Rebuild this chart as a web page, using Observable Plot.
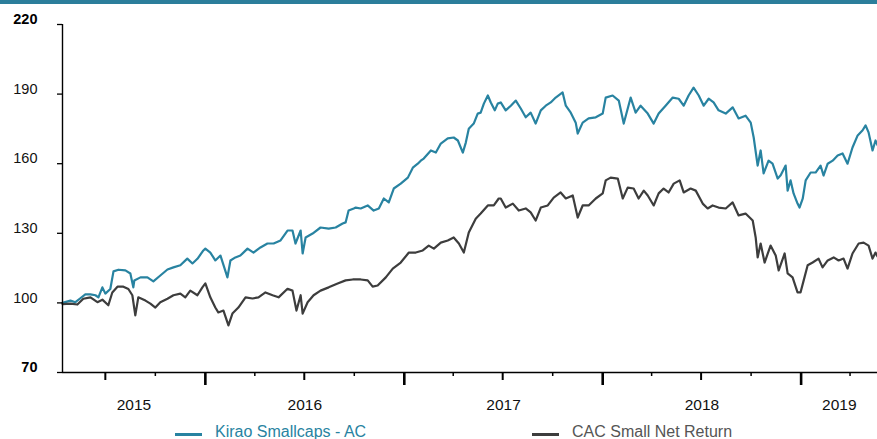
<!DOCTYPE html>
<html><head><meta charset="utf-8">
<script src="https://cdn.jsdelivr.net/npm/d3@7"></script>
<script src="https://cdn.jsdelivr.net/npm/@observablehq/plot@0.6"></script>
<style>
body{margin:0;background:#fff;font-family:"Liberation Sans",Arial,sans-serif;}
#wrap{position:relative;width:877px;height:439px;overflow:hidden;background:#fff}
#chart{position:absolute;left:0;top:0}
#bar{position:absolute;left:0;top:0;width:877px;height:4px;background:#2b7e9b}
.leg{position:absolute;top:422px;font-size:16px;line-height:20px;white-space:nowrap}
.leg i{display:inline-block;width:27px;height:3px;vertical-align:middle;margin-right:13px;position:relative;top:2px}
</style></head><body>
<div id="wrap"><div id="chart"></div><div id="bar"></div><div id="legend"></div></div>
<script>
// series names & colours
const seriesNames = ["Kirao Smallcaps - AC", "CAC Small Net Return"];
const seriesColors = ["#2883a1", "#3d3d3d"];
const legendLeft = [175, 532];

// Kirao Smallcaps - AC : decimal-year dates and values
const kiraoT = [2015.280,2015.320,2015.345,2015.370,2015.395,2015.421,2015.446,2015.461,2015.481,2015.496,2015.521,2015.537,2015.562,2015.597,2015.622,2015.637,2015.642,2015.673,2015.708,2015.738,2015.773,2015.809,2015.839,2015.874,2015.909,2015.935,2015.960,2015.990,
2016.000,2016.025,2016.050,2016.076,2016.111,2016.126,2016.151,2016.176,2016.212,2016.242,2016.277,2016.312,2016.343,2016.378,2016.413,2016.438,2016.453,2016.479,2016.489,2016.504,2016.539,2016.579,2016.620,2016.655,2016.690,2016.705,2016.720,2016.746,2016.756,2016.781,2016.816,2016.846,2016.872,2016.897,2016.922,2016.947,2016.982,
2017.018,2017.043,2017.068,2017.083,2017.098,2017.134,2017.159,2017.184,2017.219,2017.249,2017.270,2017.295,2017.310,2017.325,2017.350,2017.370,2017.385,2017.401,2017.421,2017.436,2017.456,2017.471,2017.486,2017.511,2017.537,2017.562,2017.587,2017.612,2017.637,2017.662,2017.688,2017.713,2017.738,2017.763,2017.798,2017.814,2017.839,2017.864,2017.874,2017.899,2017.929,2017.965,
2018.000,2018.015,2018.050,2018.081,2018.106,2018.141,2018.166,2018.191,2018.227,2018.257,2018.282,2018.317,2018.353,2018.383,2018.408,2018.433,2018.458,2018.484,2018.509,2018.534,2018.559,2018.584,2018.620,2018.655,2018.685,2018.720,2018.746,2018.761,2018.781,2018.796,2018.811,2018.836,2018.856,2018.882,2018.897,2018.922,2018.932,2018.947,2018.962,2018.982,2018.992,
2019.008,2019.023,2019.048,2019.073,2019.098,2019.113,2019.134,2019.159,2019.184,2019.209,2019.234,2019.259,2019.285,2019.310,2019.325,2019.340,2019.360,2019.375,2019.385];
const kiraoV = [100,101,100.3,102,103.7,103.7,103.3,102.4,106.7,104,106,113.6,114.3,114,112.7,106.7,109.7,111,111,109.3,111.8,114.4,115.3,116.2,119.1,117,119,122.6,
123.4,121.7,118.3,120.4,111,118.3,119.6,120.4,123.4,121.7,123.9,125.6,125.6,126.9,131.2,131.2,125.6,131.2,121.3,128.2,129.9,132.5,132,132.5,134.2,134.7,139.8,140.7,141.1,140.7,142,139.8,140.7,145,143.3,149.3,151.4,
154,158.3,160,161.3,162.2,165.7,164.8,168.7,170.9,171.3,170,164.8,169.1,175.1,177.3,181.6,182,185.9,189.4,186.4,183,185.9,186.4,183,185,187.2,183.8,180,182,177.3,183,185,186.4,188.5,190.7,185,182,177.7,173,177.7,179.5,180,
181.6,188.5,189.4,187.2,177.3,188.5,182,185,181.6,177.3,181.6,185,188.5,188,185,189.4,192.8,189.4,185,188,186.4,183,181.6,184.3,179.5,180.7,177.7,171.3,159.2,165.7,155.8,161.3,160,153.6,155,159.2,148.4,152.8,147.2,142.8,141.1,
144.9,152.8,156.2,156.2,159.2,154.9,160,161.3,163.5,164.4,160,167,172.2,174.4,176.5,173.5,165.7,170,168];

// CAC Small Net Return : decimal-year dates and values
const cacT = [2015.280,2015.320,2015.355,2015.385,2015.421,2015.456,2015.481,2015.511,2015.531,2015.557,2015.587,2015.612,2015.632,2015.647,2015.662,2015.698,2015.723,2015.748,2015.773,2015.809,2015.839,2015.874,2015.899,2015.924,2015.960,2015.985,
2016.000,2016.025,2016.050,2016.065,2016.091,2016.116,2016.136,2016.166,2016.202,2016.237,2016.267,2016.302,2016.338,2016.368,2016.413,2016.438,2016.458,2016.479,2016.489,2016.514,2016.544,2016.579,2016.620,2016.665,2016.705,2016.741,2016.781,2016.816,2016.841,2016.866,2016.907,2016.942,2016.982,
2017.023,2017.058,2017.093,2017.123,2017.149,2017.184,2017.219,2017.249,2017.275,2017.300,2017.325,2017.360,2017.385,2017.421,2017.451,2017.476,2017.486,2017.511,2017.547,2017.577,2017.612,2017.637,2017.662,2017.688,2017.723,2017.753,2017.788,2017.814,2017.849,2017.874,2017.899,2017.929,2017.965,
2018.000,2018.015,2018.040,2018.076,2018.101,2018.126,2018.156,2018.181,2018.207,2018.227,2018.257,2018.282,2018.307,2018.332,2018.358,2018.388,2018.408,2018.443,2018.469,2018.504,2018.529,2018.554,2018.584,2018.620,2018.655,2018.685,2018.720,2018.756,2018.771,2018.781,2018.796,2018.816,2018.846,2018.872,2018.887,2018.917,2018.932,2018.957,2018.982,2018.997,
2019.013,2019.033,2019.058,2019.088,2019.108,2019.134,2019.164,2019.189,2019.214,2019.234,2019.259,2019.290,2019.315,2019.340,2019.360,2019.375,2019.385];
const cacV = [99.5,99.7,99.3,101.8,102.4,100.3,101.4,99,104.5,107,107,106,103.3,94.6,102.4,101,99.7,98,100.3,101.8,103.3,104,102.4,105.3,103.3,106.7,
108.4,102.4,98,95.9,96.7,90.3,95.4,98,102.4,101.9,102.4,104.5,103.3,102.4,106.1,105.3,96.7,103.3,95.4,100.3,103.3,105.3,106.7,108.4,109.7,110.1,110.1,109.7,107,107.5,111,114.8,117.4,
121.7,121.7,122.6,124.7,123.4,126,126.9,128.2,125.6,121.7,130.3,136.3,138.5,142,142,145,145,141.1,142.8,139.8,140.7,139,135.5,141.1,142,145.4,147.6,145,146.3,136.8,142,142,145,
147.2,152.8,154,153.6,145,149.7,149.3,145,148.4,146.3,142,147.2,149.3,147.6,151.4,152.8,147.6,149.3,148.4,142.8,140.7,142,141.1,140.7,143.3,137.7,138.5,135.5,128.2,119.6,125.6,117.4,124.7,120.4,114,121.3,112.7,111,104.5,104.5,
109.7,116.2,117.4,119.1,115.3,118.3,119.6,118.3,119.1,114.8,121.3,125.6,126,124.7,119.1,121.7,120];

// axis values
const yTicks = [70,100,130,160,190,220];
const yBold = [70,220];
const quarterTicks = ["2015-10-01","2016-04-01","2016-10-01","2017-04-01","2017-10-01","2018-04-01","2018-10-01","2019-04-01"];
const halfTicks = ["2015-07-01","2016-07-01","2017-07-01","2018-07-01"];
const yearTicks = ["2016-01-01","2017-01-01","2018-01-01","2019-01-01"];
const yearLabels = ["2015","2016","2017","2018","2019"];
const domainT = [2015.280, 2019.385];

const toDate = t => { const y = Math.floor(t); const a = new Date(y,0,1).getTime(), b = new Date(y+1,0,1).getTime(); return new Date(a + (t - y) * (b - a)); };
const pd = s => { const [y,m,d] = s.split("-").map(Number); return new Date(y, m-1, d); };

const kirao = kiraoT.map((t,i) => ({date: toDate(t), value: kiraoV[i]}));
const cac = cacT.map((t,i) => ({date: toDate(t), value: cacV[i]}));
const x0 = toDate(domainT[0]), x1 = toDate(domainT[1]);
const labelRows = yearLabels.map(y => {
  const a = Math.max(x0.getTime(), new Date(+y,0,1).getTime());
  const b = Math.min(x1.getTime(), new Date(+y+1,0,1).getTime());
  return {label: y, date: new Date((a+b)/2)};
});

const chart = Plot.plot({
  width: 877, height: 420,
  marginLeft: 62, marginRight: 0, marginTop: 24, marginBottom: 48,
  style: {fontFamily: '"Liberation Sans", Arial, sans-serif', color: "#000", background: "transparent"},
  x: {type: "time", domain: [x0, x1], label: null},
  y: {domain: [70, 220], label: null},
  marks: [
    Plot.lineY(kirao, {x: "date", y: "value", stroke: seriesColors[0], strokeWidth: 2.2, strokeLinejoin: "round"}),
    Plot.lineY(cac, {x: "date", y: "value", stroke: seriesColors[1], strokeWidth: 2.2, strokeLinejoin: "round"}),
    Plot.ruleY([70], {stroke: "#000", strokeWidth: 1.6}),
    Plot.ruleX([x0], {y1: 70, y2: 220, stroke: "#000", strokeWidth: 1.4}),
    Plot.axisY({ticks: yTicks, tickSize: 5, tickFormat: () => "", strokeWidth: 1.3, label: null}),
    Plot.text(yTicks.filter(v => !yBold.includes(v)), {y: d => d, text: d => String(d), frameAnchor: "left", dx: -25, dy: -5, textAnchor: "end", fontSize: 14.5, fill: "#111"}),
    Plot.text(yBold, {y: d => d, text: d => String(d), frameAnchor: "left", dx: -25, dy: -5, textAnchor: "end", fontSize: 14.5, fontWeight: "bold", fill: "#000"}),
    Plot.axisX({ticks: quarterTicks.map(pd), tickSize: 4, tickFormat: () => "", strokeWidth: 1.5, label: null}),
    Plot.axisX({ticks: halfTicks.map(pd), tickSize: 8, tickFormat: () => "", strokeWidth: 2, label: null}),
    Plot.axisX({ticks: yearTicks.map(pd), tickSize: 13, tickFormat: () => "", strokeWidth: 2.6, label: null}),
    Plot.text(labelRows, {x: "date", text: "label", frameAnchor: "bottom", dy: 33, lineAnchor: "middle", fontSize: 15.5, fill: "#111"})
  ]
});
document.getElementById("chart").appendChild(chart);

const leg = document.getElementById("legend");
seriesNames.forEach((n, i) => {
  const d = document.createElement("div");
  d.className = "leg";
  d.style.left = legendLeft[i] + "px";
  d.style.color = i === 0 ? seriesColors[0] : "#555";
  d.innerHTML = `<i style="background:${seriesColors[i]}"></i>${n}`;
  leg.appendChild(d);
});
</script>
</body></html>
